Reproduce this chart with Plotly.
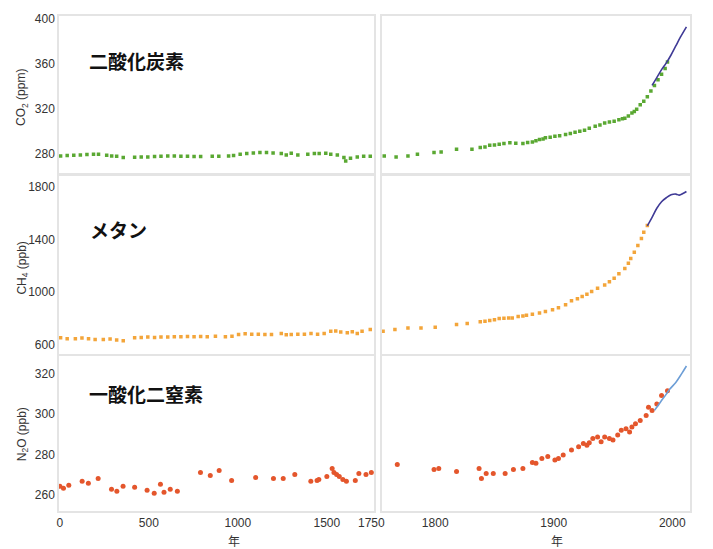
import plotly.graph_objects as go

# ---------------- data ----------------
co2_pre_year = [4,41,78,115,152,189,217,263,291,319,356,420,457,494,532,568,606,643,680,717,
                754,791,856,893,948,976,1013,1050,1087,1124,1161,1198,1244,1272,1300,1337,1393,1430,1457,1494,
                1522,1559,1596,1606,1633,1671,1707,1744]
co2_pre_val = [278.5,278.8,279.1,279.4,279.7,280,280,279.1,278.5,278.2,277.1,277.4,277.6,277.6,278,278.2,278.5,278.5,278.2,278.2,
               278,278,278.2,278.2,278.5,278.8,280,280.6,281.2,281.5,281.5,281.2,280.6,279.4,280.9,279.4,280,280.6,280.6,280.9,
               280,279.4,277.1,274.1,276.5,277.6,278.2,278.2]
co2_ind_year = [1757,1767,1777,1785,1799,1805,1818,1831,1838,1842,1846,1850,1854,1858,1863,1868,1874,1878,1882,1885,
                1888,1891,1893,1897,1901,1905,1910,1914,1918,1922,1926,1930,1935,1939,1943,1947,1951,1955,1958,1960,
                1963,1966,1968,1970,1973,1976,1979,1982,1985,1988,1991,1994,1996]
co2_ind_val = [278.5,277.6,278.5,280,281.5,282,284.4,284.4,285.9,286.5,287.9,288.2,288.8,289.5,290.2,289.8,289.6,290.5,290.8,292,
               293,293.5,294.6,295,296,296.5,297.5,298.5,299.5,300.5,301.3,303,304.8,306,307.7,308.5,309.2,310.5,311.5,312,
               314,316.5,318,320,323.8,327,331,336,341,346,351,356,361.7]
co2_mod_year = [1983,1987,1991,1995,1999,2003,2007,2012]
co2_mod_val = [341,348,355,361,368,376,384,393]

ch4_pre_year = [4,41,87,124,161,198,244,282,319,356,420,457,494,532,568,606,643,680,717,754,
                791,828,874,930,967,1004,1041,1078,1115,1152,1189,1244,1272,1300,1337,1374,1411,1448,1485,1522,
                1550,1578,1615,1643,1671,1698,1744]
ch4_pre_val = [653,645,645,650,645,640,640,643,635,630,653,655,658,655,658,658,660,660,663,660,
               663,660,665,660,665,678,683,680,680,678,678,685,675,678,680,680,685,680,685,703,
               705,696,690,698,685,703,716]
ch4_ind_year = [1756,1766,1777,1788,1800,1818,1827,1838,1842,1846,1850,1854,1858,1862,1865,1870,1874,1877,1882,1888,
                1893,1899,1904,1910,1915,1920,1924,1928,1932,1937,1943,1947,1951,1955,1960,1963,1965,1968,1971,1974,
                1976,1979]
ch4_ind_val = [703,716,728,728,733,753,761,774,778,784,790,799,801,804,804,815,818,824,832,842,
               852,867,882,904,935,950,968,985,1005,1030,1055,1080,1106,1140,1181,1220,1257,1305,1357,1410,
               1458,1508]
ch4_mod_year = [1979,1983,1987,1991,1995,1999,2003,2006,2009,2012]
ch4_mod_val = [1505,1570,1640,1690,1720,1742,1748,1740,1752,1768]

n2o_pre_year = [0,20,50,125,160,215,290,320,355,420,490,530,565,585,620,660,790,845,895,965,
                1100,1200,1255,1320,1410,1445,1455,1500,1530,1540,1555,1570,1590,1610,1660,1680,1720,1750]
n2o_pre_val = [264.1,263.1,264.6,266.6,265.6,268.0,262.6,261.6,264.1,263.6,262.1,260.6,265.1,261.1,262.6,261.6,271.0,269.5,272.0,267.0,
               268.5,268.0,268.0,270.0,266.6,267.0,267.5,269.0,273.0,271.0,270.0,269.0,267.5,266.6,267.0,270.5,270.0,271.0]
n2o_ind_year = [1768,1799,1803,1818,1837,1839,1843,1849,1859,1866,1874,1882,1885,1890,1895,1901,1904,1908,1915,1921,
                1925,1928,1930,1933,1937,1940,1943,1947,1950,1954,1957,1961,1964,1966,1969,1973,1978,1980,1983,1987,
                1991,1996]
n2o_ind_val = [274.9,272.5,273.0,271.5,273.0,268.0,270.5,270.5,270.5,272.5,273.0,275.9,275.6,278.0,278.9,277.2,278.0,279.7,282.2,283.8,
               285.4,284.6,285.8,287.9,288.7,286.3,288.7,287.9,287.1,289.6,292.0,292.8,291.2,293.6,295.3,296.9,299.4,303.5,301.9,305.1,
               309.3,311.7]
n2o_mod_year = [1985,1990,1995,1998,2003,2008,2012]
n2o_mod_val = [301.9,306,310,312.5,315.8,320.2,324]

left_ticks = [0, 500, 1000, 1500, 1750]
right_ticks = [1800, 1900, 2000]
co2_ticks = [280, 320, 360, 400]
ch4_ticks = [600, 1000, 1400, 1800]
n2o_ticks = [260, 280, 300, 320]

gas_labels = ["二酸化炭素", "メタン", "一酸化二窒素"]
y_titles = ["CO<sub>2</sub> (ppm)", "CH<sub>4</sub> (ppb)", "N<sub>2</sub>O (ppb)"]
x_title = "年"

# ---------------- styling ----------------
GREEN = "#5aa832"
ORANGE = "#f3a53a"
RED = "#e4562c"
DARKBLUE = "#3f3a96"
LIGHTBLUE = "#6d9ed6"
BORDER = "#e4e4e4"
TXT = "#333333"
TICKFONT = dict(family="Liberation Sans, Arial, sans-serif", size=12, color=TXT)

W, H = 713, 549
ML, MR, MT, MB = 59, 13, 12, 38
PW, PH = W - ML - MR, H - MT - MB

def fx(px):
    return (px - ML) / PW

def fy(py):
    return (H - MB - py) / PH

x_ranges = [[-5, 1765], [1755, 2015]]
x_domains = [[0.0, 0.4992], [0.5117, 1.0]]
y_ranges = [[263, 402.6], [532, 1883], [251.8, 329.2]]
y_domains = [[0.682, 1.0], [0.318, 0.676], [0.0, 0.314]]
y_tickvals = [co2_ticks, ch4_ticks, n2o_ticks]

fig = go.Figure()

def axname(i, kind):
    return kind + ("" if i == 1 else str(i))

rows = [
    (co2_pre_year, co2_pre_val, co2_ind_year, co2_ind_val, co2_mod_year, co2_mod_val, GREEN, DARKBLUE, "square", 3.5),
    (ch4_pre_year, ch4_pre_val, ch4_ind_year, ch4_ind_val, ch4_mod_year, ch4_mod_val, ORANGE, DARKBLUE, "square", 3.5),
    (n2o_pre_year, n2o_pre_val, n2o_ind_year, n2o_ind_val, n2o_mod_year, n2o_mod_val, RED, LIGHTBLUE, "circle", 5),
]

layout_axes = {}
for r, (py_, pv, iy, iv, my, mv, col, lcol, sym, msz) in enumerate(rows):
    for c in range(2):
        i = r * 2 + c + 1
        xa = "x" if i == 1 else f"x{i}"
        ya = "y" if i == 1 else f"y{i}"
        xs, ys = (py_, pv) if c == 0 else (iy, iv)
        fig.add_trace(go.Scatter(x=xs, y=ys, mode="markers", xaxis=xa, yaxis=ya,
                                 marker=dict(color=col, size=msz, symbol=sym, line=dict(width=0)),
                                 showlegend=False, hoverinfo="x+y"))
        if c == 1:
            fig.add_trace(go.Scatter(x=my, y=mv, mode="lines", xaxis=xa, yaxis=ya,
                                     line=dict(color=lcol, width=1.6, shape="spline"),
                                     showlegend=False))
        layout_axes[axname(i, "xaxis")] = dict(
            domain=x_domains[c], range=x_ranges[c], anchor=ya,
            showgrid=False, zeroline=False, showline=True, mirror=True,
            linecolor=BORDER, linewidth=1.5,
            tickmode="array", tickvals=(left_ticks if c == 0 else right_ticks),
            showticklabels=(r == 2), ticks="", tickfont=TICKFONT,
        )
        layout_axes[axname(i, "yaxis")] = dict(
            domain=y_domains[r], range=y_ranges[r], anchor=xa,
            showgrid=False, zeroline=False, showline=True, mirror=True,
            linecolor=BORDER, linewidth=1.5,
            tickmode="array", tickvals=y_tickvals[r],
            showticklabels=(c == 0), ticks="", tickfont=TICKFONT,
        )

annotations = []
label_px = [(87, 57), (88, 227), (87, 393)]
for (lx, ly), txt in zip(label_px, gas_labels):
    annotations.append(dict(x=fx(lx), y=fy(ly), xref="paper", yref="paper", text=txt, showarrow=False,
                            xanchor="left", yanchor="middle",
                            font=dict(family="Noto Sans CJK JP", size=19, color="#111111", weight=600)))
for ty, txt in zip([94, 266, 434], y_titles):
    annotations.append(dict(x=fx(22), y=fy(ty), xref="paper", yref="paper", text=txt, showarrow=False,
                            textangle=-90, xanchor="center", yanchor="middle",
                            font=dict(family="Liberation Sans, Arial, sans-serif", size=12, color=TXT)))
for px in [237, 565]:
    annotations.append(dict(x=fx(px), y=fy(541), xref="paper", yref="paper", text=x_title,
                            showarrow=False, xanchor="center", yanchor="middle",
                            font=dict(family="Noto Sans CJK JP", size=12, color=TXT)))

fig.update_layout(
    width=W, height=H,
    margin=dict(l=ML, r=MR, t=MT, b=MB),
    paper_bgcolor="white", plot_bgcolor="white",
    showlegend=False,
    annotations=annotations,
    **layout_axes,
)

fig.write_html("out.html")
